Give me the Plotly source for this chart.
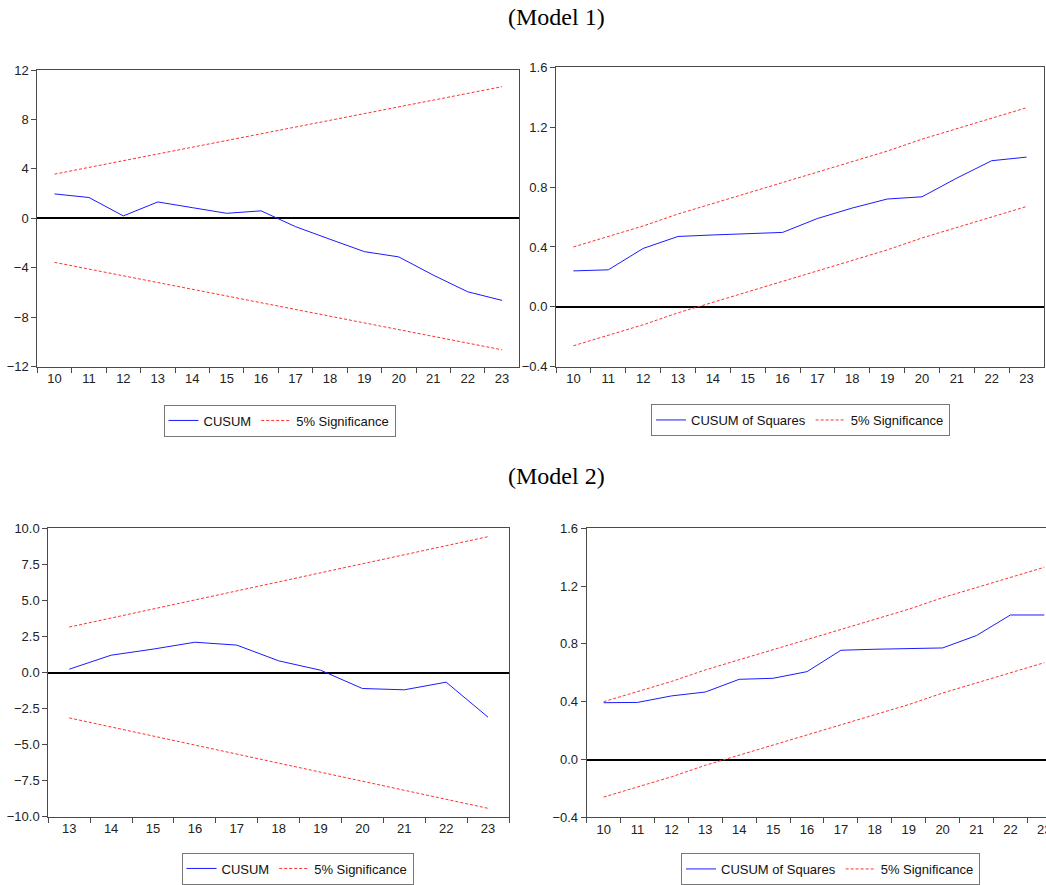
import plotly.graph_objects as go

# ---------------- data ----------------
m1_periods = ["10", "11", "12", "13", "14", "15", "16", "17", "18", "19", "20", "21", "22", "23"]
m1_cusum = [1.97, 1.68, 0.19, 1.32, 0.86, 0.40, 0.60, -0.68, -1.70, -2.70, -3.13, -4.60, -5.95, -6.65]
m1_cusum_upper = [3.57, 4.11, 4.66, 5.20, 5.75, 6.29, 6.84, 7.38, 7.93, 8.47, 9.02, 9.56, 10.11, 10.65]
m1_cusum_lower = [-3.57, -4.11, -4.66, -5.20, -5.75, -6.29, -6.84, -7.38, -7.93, -8.47, -9.02, -9.56, -10.11, -10.65]
m1_cusumsq = [0.24, 0.247, 0.39, 0.47, 0.48, 0.49, 0.497, 0.59, 0.66, 0.72, 0.735, 0.86, 0.976, 1.0]
m1_sq_upper = [0.40, 0.47, 0.54, 0.62, 0.69, 0.76, 0.83, 0.90, 0.97, 1.04, 1.12, 1.19, 1.26, 1.33]
m1_sq_lower = [-0.26, -0.19, -0.12, -0.04, 0.03, 0.10, 0.17, 0.24, 0.31, 0.38, 0.46, 0.53, 0.60, 0.67]

m2_periods = ["13", "14", "15", "16", "17", "18", "19", "20", "21", "22", "23"]
m2_cusum = [0.23, 1.20, 1.62, 2.10, 1.90, 0.81, 0.16, -1.11, -1.20, -0.67, -3.10]
m2_cusum_upper = [3.15, 3.78, 4.40, 5.03, 5.66, 6.28, 6.91, 7.54, 8.16, 8.79, 9.42]
m2_cusum_lower = [-3.15, -3.78, -4.40, -5.03, -5.66, -6.28, -6.91, -7.54, -8.16, -8.79, -9.42]
m2_sq_periods = ["10", "11", "12", "13", "14", "15", "16", "17", "18", "19", "20", "21", "22", "23"]
m2_cusumsq = [0.393, 0.395, 0.44, 0.467, 0.555, 0.562, 0.608, 0.756, 0.763, 0.765, 0.772, 0.858, 1.0, 1.0]
m2_sq_upper = [0.40, 0.47, 0.54, 0.62, 0.69, 0.76, 0.83, 0.90, 0.97, 1.04, 1.12, 1.19, 1.26, 1.33]
m2_sq_lower = [-0.26, -0.19, -0.12, -0.04, 0.03, 0.10, 0.17, 0.24, 0.31, 0.38, 0.46, 0.53, 0.60, 0.67]

titles = ["(Model 1)", "(Model 2)"]
cusum_name = "CUSUM"
cusumsq_name = "CUSUM of Squares"
sig_name = "5% Significance"

W, H = 1046, 885
BLUE = "#1a1aff"
RED = "#ff3030"
AXC = "#4a4a4a"
SANS = "Liberation Sans, Arial, sans-serif"
SERIF = "Liberation Serif, Times New Roman, serif"

fig = go.Figure()

panels = [
    (m1_periods, m1_cusum, m1_cusum_upper, m1_cusum_lower, cusum_name, "legend"),
    (m1_periods, m1_cusumsq, m1_sq_upper, m1_sq_lower, cusumsq_name, "legend2"),
    (m2_periods, m2_cusum, m2_cusum_upper, m2_cusum_lower, cusum_name, "legend3"),
    (m2_sq_periods, m2_cusumsq, m2_sq_upper, m2_sq_lower, cusumsq_name, "legend4"),
]

for i, (cats, main, up, lo, name, leg) in enumerate(panels):
    ax = "" if i == 0 else str(i + 1)
    fig.add_trace(go.Scatter(x=cats, y=main, mode="lines", name=name,
                             line=dict(color=BLUE, width=1), xaxis="x" + ax, yaxis="y" + ax,
                             legend=leg, showlegend=True))
    fig.add_trace(go.Scatter(x=cats, y=up, mode="lines", name=sig_name,
                             line=dict(color=RED, width=1, dash="3px,2px"), xaxis="x" + ax, yaxis="y" + ax,
                             legend=leg, legendgroup="sig" + ax, showlegend=True))
    fig.add_trace(go.Scatter(x=cats, y=lo, mode="lines", name=sig_name,
                             line=dict(color=RED, width=1, dash="3px,2px"), xaxis="x" + ax, yaxis="y" + ax,
                             legend=leg, legendgroup="sig" + ax, showlegend=False))


def px_x(a, b):
    return [a / W, b / W]


def px_y(top, bottom):
    return [1 - bottom / H, 1 - top / H]


xdom = [px_x(37.3, 519.3), px_x(556, 1044), px_x(48.3, 509), px_x(586.7, 1046)]
ydom = [px_y(70, 366.5), px_y(67.3, 366.7), px_y(528.3, 816.7), px_y(528.3, 817.3)]
xrng = [[-0.5, 13.5], [-0.5, 13.5], [-0.5, 10.5], [-0.5, 13.05]]
yrng = [[-12, 12], [-0.4, 1.6], [-10, 10], [-0.4, 1.6]]
ydt = [4, 0.4, 2.5, 0.4]
yfmt = ["d", ".1f", ".1f", ".1f"]

layout = dict(
    width=W, height=H, autosize=False,
    margin=dict(l=0, r=0, t=0, b=0, pad=0, autoexpand=False),
    paper_bgcolor="white", plot_bgcolor="white",
    font=dict(family=SANS, size=13, color="#222222"),
)

for i in range(4):
    ax = "" if i == 0 else str(i + 1)
    layout["xaxis" + ax] = dict(
        domain=xdom[i], range=xrng[i], type="category", anchor="y" + ax,
        showline=True, linecolor=AXC, linewidth=1, mirror=True,
        ticks="outside", tickson="boundaries", ticklen=5, tickcolor=AXC,
        showgrid=False, zeroline=False, fixedrange=True, automargin=False,
        tickfont=dict(family=SANS, size=13, color="#222222"),
    )
    layout["yaxis" + ax] = dict(
        domain=ydom[i], range=yrng[i], anchor="x" + ax,
        dtick=ydt[i], tick0=0, tickformat=yfmt[i],
        showline=True, linecolor=AXC, linewidth=1, mirror=True,
        ticks="outside", ticklen=5, tickcolor=AXC,
        showgrid=False, zeroline=True, zerolinecolor="black", zerolinewidth=1.5,
        fixedrange=True, automargin=False,
        tickfont=dict(family=SANS, size=13, color="#222222"),
    )

leg_pos = [(279.5, 420.5), (800.5, 420), (297.5, 868.5), (830.5, 869)]
for i, (cx, cy) in enumerate(leg_pos):
    key = "legend" if i == 0 else "legend" + str(i + 1)
    layout[key] = dict(
        x=cx / W, y=1 - cy / H, xanchor="center", yanchor="middle",
        orientation="h", bordercolor="#777777", borderwidth=1, bgcolor="white",
        font=dict(family=SANS, size=13, color="#111111"),
        itemwidth=30, tracegroupgap=0,
    )

layout["annotations"] = [
    dict(text=titles[0], x=556 / W, y=1 - 17 / H, xref="paper", yref="paper",
         showarrow=False, font=dict(family=SERIF, size=24, color="black"),
         xanchor="center", yanchor="middle"),
    dict(text=titles[1], x=556 / W, y=1 - 476 / H, xref="paper", yref="paper",
         showarrow=False, font=dict(family=SERIF, size=24, color="black"),
         xanchor="center", yanchor="middle"),
]

fig.update_layout(**layout)

post = (
    "document.documentElement.style.margin='0';"
    "document.documentElement.style.overflow='hidden';"
    "document.body.style.margin='0';"
    "document.body.style.overflow='hidden';"
    "var gd=document.getElementById('{plot_id}');"
    "gd.style.position='fixed';gd.style.left='0px';gd.style.top='0px';"
)
fig.write_html("out.html", config={"displayModeBar": False}, post_script=post)
